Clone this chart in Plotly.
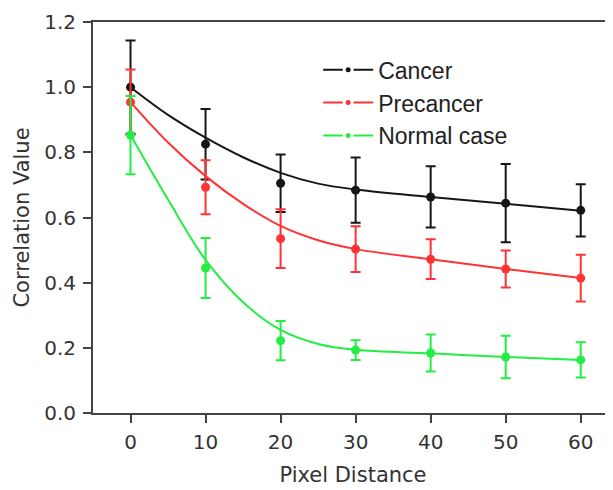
import plotly.graph_objects as go

# ---- data ----
pixel_distance = [0, 10, 20, 30, 40, 50, 60]

cancer_mean = [1.00, 0.825, 0.705, 0.684, 0.663, 0.644, 0.622]
cancer_err = [0.143, 0.108, 0.088, 0.100, 0.094, 0.120, 0.080]

precancer_mean = [0.954, 0.693, 0.535, 0.503, 0.472, 0.442, 0.414]
precancer_err = [0.100, 0.083, 0.090, 0.070, 0.061, 0.057, 0.072]

normal_mean = [0.853, 0.445, 0.222, 0.193, 0.184, 0.172, 0.163]
normal_err = [0.120, 0.092, 0.060, 0.030, 0.057, 0.065, 0.054]

# fitted curves
fit_x = [0, 5, 10, 15, 20, 25, 30, 40, 50, 60]
cancer_fit = [1.00, 0.915, 0.845, 0.785, 0.737, 0.704, 0.686, 0.663, 0.642, 0.621]
precancer_fit = [0.954, 0.830, 0.727, 0.642, 0.574, 0.530, 0.503, 0.472, 0.442, 0.414]
normal_fit = [0.853, 0.655, 0.470, 0.340, 0.255, 0.212, 0.194, 0.183, 0.172, 0.163]

y_ticks = [0, 0.2, 0.4, 0.6, 0.8, 1.0, 1.2]

series = [
    ("Cancer", cancer_mean, cancer_err, cancer_fit, "#161616"),
    ("Precancer", precancer_mean, precancer_err, precancer_fit, "#ff3333"),
    ("Normal case", normal_mean, normal_err, normal_fit, "#22ee44"),
]

fig = go.Figure()
for i, (name, mean, err, fit, color) in enumerate(series):
    fig.add_trace(go.Scatter(
        x=fit_x, y=fit, mode="lines", line=dict(color=color, width=2, shape="spline"),
        showlegend=False, hoverinfo="skip"))
    fig.add_trace(go.Scatter(
        x=pixel_distance, y=mean, mode="markers",
        marker=dict(color=color, size=9),
        error_y=dict(type="data", array=err, visible=True, color=color,
                     thickness=2, width=5),
        showlegend=False, name=name))
    # legend entry
    fig.add_trace(go.Scatter(
        x=[None], y=[None], mode="lines+markers", name=name,
        line=dict(color=color, width=2),
        marker=dict(color=color, size=8, line=dict(color="white", width=3)),
        legendgroup=f"g{i}", showlegend=True))

axis_color = "#444444"
font_family = "DejaVu Sans, Verdana, sans-serif"

fig.update_layout(
    width=613, height=490,
    margin=dict(l=85, r=8, t=14, b=85),
    plot_bgcolor="white", paper_bgcolor="white",
    font=dict(family=font_family, color="#333333"),
    showlegend=True,
    legend=dict(x=0.433, y=0.933, xanchor="left", yanchor="top",
                font=dict(size=23, color="#222222", family="Liberation Sans, Arial, sans-serif"),
                bgcolor="rgba(0,0,0,0)", traceorder="grouped", tracegroupgap=0,
                itemwidth=50),
    xaxis=dict(range=[-5, 64.3], tickvals=pixel_distance, automargin=False,
               ticks="outside", ticklen=8, tickwidth=2, tickcolor=axis_color,
               ticklabelstandoff=2,
               showline=True, linecolor=axis_color, linewidth=2, mirror=True,
               showgrid=False, zeroline=False,
               tickfont=dict(size=20, color="#333333"),
               title=dict(text="Pixel Distance", font=dict(size=21, color="#333333"), standoff=14)),
    yaxis=dict(range=[0, 1.2], tickvals=y_ticks, automargin=False,
               tickformat=".1f",
               ticks="outside", ticklen=8, tickwidth=2, tickcolor=axis_color,
               ticklabelstandoff=3,
               showline=True, linecolor=axis_color, linewidth=2,
               showgrid=False, zeroline=False,
               tickfont=dict(size=20, color="#333333"),
               title=dict(text="Correlation Value", font=dict(size=21, color="#333333"), standoff=9)),
)

fig.write_html("out.html")
